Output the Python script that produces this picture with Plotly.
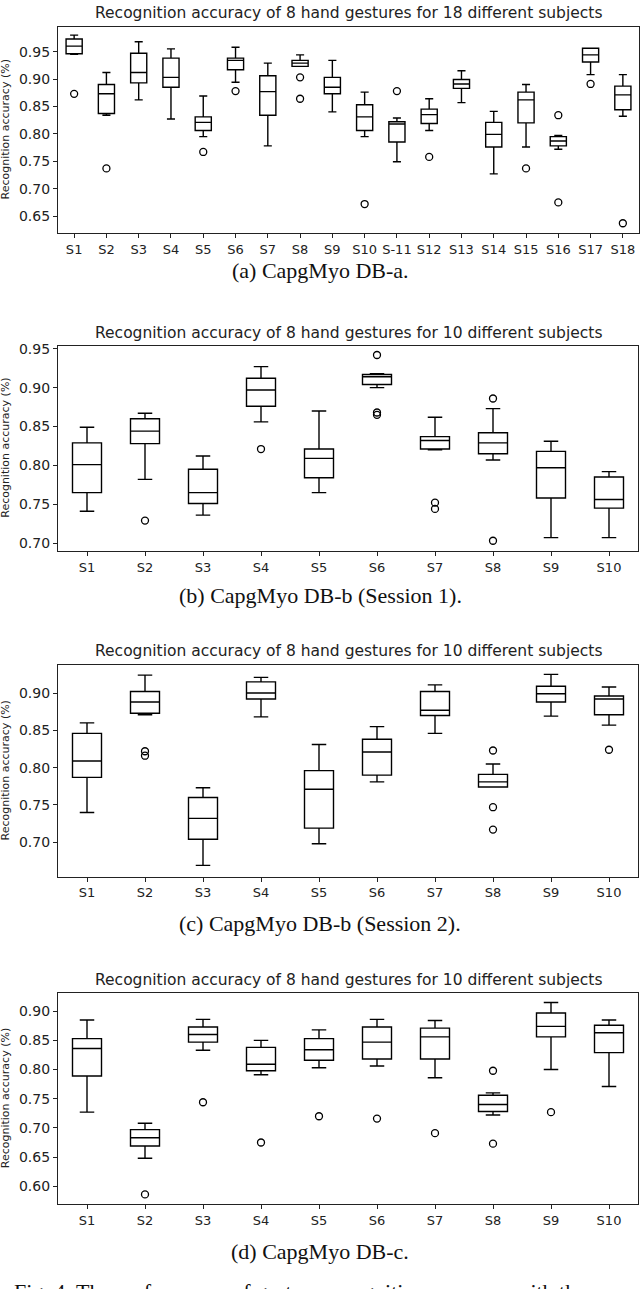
import plotly.graph_objects as go

W, H = 640, 1289

# ---------------- data ----------------
A_CATS = ["S1", "S2", "S3", "S4", "S5", "S6", "S7", "S8", "S9", "S10", "S-11",
          "S12", "S13", "S14", "S15", "S16", "S17", "S18"]
A_LOW = [0.945, 0.834, 0.862, 0.827, 0.795, 0.894, 0.778, 0.923, 0.840, 0.795, 0.749,
         0.806, 0.857, 0.727, 0.776, 0.772, 0.908, 0.832]
A_Q1 = [0.946, 0.837, 0.893, 0.885, 0.806, 0.917, 0.834, 0.923, 0.873, 0.806, 0.785,
        0.819, 0.883, 0.776, 0.820, 0.778, 0.931, 0.844]
A_MED = [0.960, 0.873, 0.912, 0.903, 0.821, 0.934, 0.877, 0.929, 0.885, 0.831, 0.818,
         0.835, 0.891, 0.799, 0.862, 0.787, 0.944, 0.871]
A_Q3 = [0.973, 0.890, 0.947, 0.938, 0.831, 0.938, 0.906, 0.934, 0.903, 0.853, 0.822,
        0.845, 0.899, 0.821, 0.876, 0.795, 0.956, 0.887]
A_HIGH = [0.980, 0.912, 0.968, 0.955, 0.869, 0.958, 0.929, 0.944, 0.934, 0.876, 0.829,
          0.864, 0.915, 0.841, 0.890, 0.797, 0.956, 0.908]
A_OUT_X = ["S1", "S2", "S5", "S6", "S8", "S8", "S10", "S-11", "S12", "S15", "S16", "S16", "S17", "S18"]
A_OUT_Y = [0.873, 0.737, 0.767, 0.878, 0.903, 0.864, 0.672, 0.878, 0.758, 0.737, 0.834, 0.675, 0.891, 0.637]

B_CATS = ["S1", "S2", "S3", "S4", "S5", "S6", "S7", "S8", "S9", "S10"]
B_LOW = [0.741, 0.782, 0.736, 0.856, 0.765, 0.900, 0.820, 0.807, 0.707, 0.707]
B_Q1 = [0.765, 0.828, 0.751, 0.876, 0.784, 0.904, 0.821, 0.815, 0.758, 0.745]
B_MED = [0.801, 0.844, 0.765, 0.897, 0.809, 0.914, 0.832, 0.829, 0.797, 0.756]
B_Q3 = [0.829, 0.860, 0.795, 0.912, 0.821, 0.917, 0.837, 0.842, 0.818, 0.785]
B_HIGH = [0.849, 0.867, 0.812, 0.927, 0.870, 0.918, 0.862, 0.873, 0.831, 0.792]
B_OUT_X = ["S2", "S4", "S6", "S6", "S6", "S7", "S7", "S8", "S8"]
B_OUT_Y = [0.729, 0.821, 0.942, 0.868, 0.865, 0.752, 0.744, 0.886, 0.703]

C_CATS = ["S1", "S2", "S3", "S4", "S5", "S6", "S7", "S8", "S9", "S10"]
C_LOW = [0.740, 0.871, 0.669, 0.868, 0.698, 0.781, 0.846, 0.774, 0.869, 0.857]
C_Q1 = [0.787, 0.873, 0.704, 0.892, 0.719, 0.790, 0.870, 0.774, 0.888, 0.871]
C_MED = [0.809, 0.888, 0.732, 0.900, 0.771, 0.821, 0.877, 0.781, 0.899, 0.892]
C_Q3 = [0.846, 0.902, 0.760, 0.915, 0.796, 0.838, 0.902, 0.791, 0.909, 0.896]
C_HIGH = [0.860, 0.924, 0.773, 0.921, 0.831, 0.855, 0.911, 0.805, 0.925, 0.908]
C_OUT_X = ["S2", "S2", "S8", "S8", "S8", "S10"]
C_OUT_Y = [0.822, 0.816, 0.823, 0.747, 0.717, 0.824]

D_CATS = ["S1", "S2", "S3", "S4", "S5", "S6", "S7", "S8", "S9", "S10"]
D_LOW = [0.727, 0.648, 0.833, 0.791, 0.803, 0.806, 0.786, 0.722, 0.800, 0.771]
D_Q1 = [0.789, 0.669, 0.847, 0.798, 0.816, 0.818, 0.818, 0.728, 0.856, 0.829]
D_MED = [0.836, 0.683, 0.860, 0.809, 0.834, 0.847, 0.856, 0.740, 0.874, 0.863]
D_Q3 = [0.853, 0.697, 0.873, 0.838, 0.853, 0.873, 0.871, 0.756, 0.897, 0.876]
D_HIGH = [0.885, 0.708, 0.886, 0.850, 0.868, 0.886, 0.884, 0.760, 0.915, 0.885]
D_OUT_X = ["S2", "S3", "S4", "S5", "S6", "S7", "S8", "S8", "S9"]
D_OUT_Y = [0.586, 0.744, 0.675, 0.720, 0.716, 0.691, 0.798, 0.673, 0.727]

TITLES = ["Recognition accuracy of 8 hand gestures for 18 different subjects",
          "Recognition accuracy of 8 hand gestures for 10 different subjects",
          "Recognition accuracy of 8 hand gestures for 10 different subjects",
          "Recognition accuracy of 8 hand gestures for 10 different subjects"]
CAPTIONS = ["(a) CapgMyo DB-a.", "(b) CapgMyo DB-b (Session 1).",
            "(c) CapgMyo DB-b (Session 2).", "(d) CapgMyo DB-c."]
YLABEL = "Recognition accuracy (%)"
FIG_CAPTION = "Fig. 4. The performance of gesture recognition accuracy with the"
Y_RANGES = [[0.619, 0.995], [0.690, 0.954], [0.654, 0.937], [0.569, 0.931]]
Y_TICKS = [[0.65, 0.70, 0.75, 0.80, 0.85, 0.90, 0.95],
           [0.70, 0.75, 0.80, 0.85, 0.90, 0.95],
           [0.70, 0.75, 0.80, 0.85, 0.90],
           [0.60, 0.65, 0.70, 0.75, 0.80, 0.85, 0.90]]

panels = [
    (A_CATS, A_LOW, A_Q1, A_MED, A_Q3, A_HIGH, A_OUT_X, A_OUT_Y),
    (B_CATS, B_LOW, B_Q1, B_MED, B_Q3, B_HIGH, B_OUT_X, B_OUT_Y),
    (C_CATS, C_LOW, C_Q1, C_MED, C_Q3, C_HIGH, C_OUT_X, C_OUT_Y),
    (D_CATS, D_LOW, D_Q1, D_MED, D_Q3, D_HIGH, D_OUT_X, D_OUT_Y),
]

# ---------------- layout geometry (pixels) ----------------
AX_LEFT, AX_RIGHT = 58, 639
AX_TOP = [22, 342, 663, 992]
AX_BOT = [229, 548, 875, 1204]
TITLE_Y = [8, 329, 649, 979]
CAP_Y = [267, 593, 922, 1251]
FIGCAP_Y = 1292

def py(p):
    return 1 - p / H

fig = go.Figure()
annotations = []
layout = {}
for i, (cats, lo, q1, med, q3, hi, ox, oy) in enumerate(panels):
    n = i + 1
    xa = "x" if n == 1 else f"x{n}"
    ya = "y" if n == 1 else f"y{n}"
    fig.add_trace(go.Box(
        x=cats, q1=q1, median=med, q3=q3, lowerfence=lo, upperfence=hi,
        xaxis=xa, yaxis=ya, width=0.5, whiskerwidth=0.5,
        fillcolor="white", line=dict(color="black", width=1.4),
        boxpoints=False, showlegend=False, hoverinfo="skip",
    ))
    fig.add_trace(go.Scatter(
        x=ox, y=oy, mode="markers", xaxis=xa, yaxis=ya,
        marker=dict(symbol="circle-open", size=7, color="black", line=dict(width=1.3)),
        showlegend=False, hoverinfo="skip",
    ))
    xkey = "xaxis" if n == 1 else f"xaxis{n}"
    ykey = "yaxis" if n == 1 else f"yaxis{n}"
    right = AX_RIGHT if n == 1 else AX_RIGHT - 1
    layout[xkey] = dict(
        domain=[AX_LEFT / W, right / W], anchor=ya,
        type="category", categoryorder="array", categoryarray=cats,
        range=[-0.5, len(cats) - 0.5], tickangle=0,
        showline=True, mirror=True, linecolor="#222", linewidth=1.2,
        ticks="outside", ticklen=4, tickcolor="#222", showgrid=False, zeroline=False,
        tickfont=dict(family="DejaVu Sans", size=13, color="#222"),
    )
    layout[ykey] = dict(
        domain=[py(AX_BOT[i]), py(AX_TOP[i])], anchor=xa,
        range=Y_RANGES[i], tickvals=Y_TICKS[i], tickformat=".2f",
        showline=True, mirror=True, linecolor="#222", linewidth=1.2,
        ticks="outside", ticklen=4, tickcolor="#222", showgrid=False, zeroline=False,
        tickfont=dict(family="DejaVu Sans", size=14, color="#222"),
    )
    annotations.append(dict(
        text=TITLES[i], xref="paper", yref="paper",
        x=(AX_LEFT + right) / 2 / W, y=py(TITLE_Y[i]), xanchor="center", yanchor="middle",
        showarrow=False, font=dict(family="DejaVu Sans", size=15.5, color="#222"),
    ))
    annotations.append(dict(
        text=CAPTIONS[i], xref="paper", yref="paper",
        x=320 / W, y=py(CAP_Y[i]), xanchor="center", yanchor="middle",
        showarrow=False, font=dict(family="Liberation Serif", size=22, color="#111"),
    ))
    annotations.append(dict(
        text=YLABEL, xref="paper", yref="paper", textangle=-90,
        x=5.5 / W, y=py((AX_TOP[i] + AX_BOT[i]) / 2), xanchor="center", yanchor="middle",
        showarrow=False, font=dict(family="DejaVu Sans", size=11, color="#222"),
    ))

annotations.append(dict(
    text=FIG_CAPTION, xref="paper", yref="paper",
    x=12 / W, y=py(FIGCAP_Y), xanchor="left", yanchor="middle",
    showarrow=False, font=dict(family="Liberation Serif", size=22, color="#111"),
))

fig.update_layout(
    width=W, height=H, margin=dict(l=0, r=0, t=0, b=0),
    paper_bgcolor="white", plot_bgcolor="white",
    annotations=annotations, **layout,
)

fig.write_html(
    "out.html",
    config={"displayModeBar": False},
    post_script="document.body.style.margin='0px';document.body.style.overflow='hidden';",
)
